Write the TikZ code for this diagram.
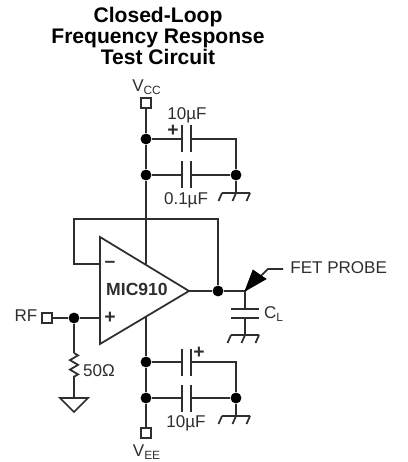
\documentclass[tikz,border=0pt]{standalone}
\usepackage{fontspec}
\setmainfont{Liberation Sans}
\usetikzlibrary{arrows.meta,decorations.pathmorphing}
\definecolor{wirecol}{HTML}{2E2E2E}
\newcommand{\chassis}[1]{\draw[wire] (#1) ++(-14,0) -- ++(28,0) ++(0,0) -- ++(-3.5,8) (#1) -- ++(-3.5,8) (#1) ++(-14,0) -- ++(-3.5,8);}
\newcommand{\plate}[1]{\draw[wire] (#1) ++(0,-13.5) -- ++(0,27);}
\tikzset{
	wire/.style={draw=wirecol,line width=1pt},
	junc/.style={circle,fill=black,inner sep=0pt,minimum size=6.2pt},
	port/.style={draw=wirecol,line width=1pt,fill=white,rectangle,inner sep=0pt,minimum size=5.4pt},
	lbl/.style={text=wirecol,font=\fontsize{9.7}{11}\selectfont,inner sep=0pt},
}
\begin{document}
\begin{tikzpicture}[x=0.02cm,y=-0.02cm]
				\useasboundingbox (0,0) rectangle (408,462);
				\node[text=black,font=\fontsize{12}{12}\selectfont\bfseries,align=center,inner sep=0pt] (title) at (158,36) {Closed-Loop\\Frequency Response\\Test Circuit};
				\node[port] (vcc) at (146,103) {};
				\node[port] (vee) at (146,433) {};
				\node[port] (rf) at (47,318) {};
				\node[junc] (j1) at (146,139) {};
				\node[junc] (j2) at (146,175) {};
				\node[junc] (j3) at (236,175) {};
				\node[junc] (j4) at (146,362) {};
				\node[junc] (j5) at (146,398) {};
				\node[junc] (j6) at (236,398) {};
				\node[junc] (j7) at (218,291) {};
				\node[junc] (j8) at (74,318) {};
				\coordinate (c1a) at (182,139);
				\coordinate (c1b) at (191,139);
				\coordinate (c1r) at (236,139);
				\coordinate (c2a) at (182,175);
				\coordinate (c2b) at (191,175);
				\coordinate (c3a) at (182,362);
				\coordinate (c3b) at (191,362);
				\coordinate (c3r) at (236,362);
				\coordinate (c4a) at (182,398);
				\coordinate (c4b) at (191,398);
				\coordinate (amptop) at (146,264);
				\coordinate (ampbot) at (146,317);
				\coordinate (ampm) at (100,264);
				\coordinate (ampp) at (100,318);
				\coordinate (amptip) at (189,291);
				\coordinate (fbtl) at (74,219);
				\coordinate (fbbl) at (74,264);
				\coordinate (fbtr) at (218,219);
				\coordinate (gnd1) at (236,193);
				\coordinate (gnd2) at (236,416);
				\coordinate (gnd3) at (245,335);
				\coordinate (out) at (245,291);
				\coordinate (cla) at (245,309);
				\coordinate (clb) at (245,318);
				\coordinate (prb) at (268,269);
				\coordinate (prbl) at (283,269);
				\coordinate (ra) at (74,353);
				\coordinate (rb) at (74,379);
				\coordinate (gnd4) at (74,398);
				\draw[wire] (vcc) -- (j1) -- (j2) -- (amptop);
				\draw[wire] (ampbot) -- (j4) -- (j5) -- (vee);
				\draw[wire] (j1) -- (c1a);
				\draw[wire] (c1b) -- (c1r) -- (j3);
				\draw[wire] (j2) -- (c2a);
				\draw[wire] (c2b) -- (j3);
				\draw[wire] (j3) -- (gnd1);
				\draw[wire] (j4) -- (c3a);
				\draw[wire] (c3b) -- (c3r) -- (j6);
				\draw[wire] (j5) -- (c4a);
				\draw[wire] (c4b) -- (j6);
				\draw[wire] (j6) -- (gnd2);
				\plate{c1a}
				\plate{c1b}
				\plate{c2a}
				\plate{c2b}
				\plate{c3a}
				\plate{c3b}
				\plate{c4a}
				\plate{c4b}
				\chassis{gnd1}
				\chassis{gnd2}
				\chassis{gnd3}
				\draw[wire,line join=miter] (100,237) -- (amptip) -- (100,344) -- cycle;
				\draw[wire] (ampm) -- (fbbl) -- (fbtl) -- (fbtr) -- (j7);
				\draw[wire] (amptip) -- (j7) -- (out);
				\draw[wire] (out) -- (cla);
				\draw[wire] (clb) -- (gnd3);
				\draw[wire] (cla) ++(-14,0) -- ++(28,0);
				\draw[wire] (clb) ++(-14,0) -- ++(28,0);
				\draw[wire] (prbl) -- (prb) -- (out);
				\draw[fill=black,draw=black,line width=0.4pt] (out) -- (253,270) -- (260,275) -- (266,279) -- cycle;
				\draw[wire] (rf) -- (j8) -- (ampp);
				\draw[wire] (j8) -- (ra);
				\draw[wire,decorate,decoration={zigzag,segment length=5.4pt,amplitude=2.3pt}] (ra) -- (rb);
				\draw[wire] (rb) -- (gnd4);
				\draw[wire] (gnd4) ++(-14,0) -- ++(28,0) -- (74,412) -- cycle;
				\node[lbl] (vcclbl) at (147,87) {V\textsubscript{CC}};
				\node[lbl] (veelbl) at (147,452) {V\textsubscript{EE}};
				\node[lbl] (c1lbl) at (187,115) {10µF};
				\node[lbl] (c2lbl) at (186,200) {0.1µF};
				\node[lbl] (c3lbl) at (186,423) {10µF};
				\node[lbl,font=\fontsize{11}{11}\selectfont\bfseries] (c1plus) at (173,131) {+};
				\node[lbl,font=\fontsize{11}{11}\selectfont\bfseries] (c3plus) at (199,353) {+};
				\node[lbl,font=\fontsize{10}{11}\selectfont\bfseries] (ampname) at (137,289) {MIC910};
				\node[lbl,font=\fontsize{11}{11}\selectfont\bfseries] (ampplus) at (110,318) {+};
				\node[lbl,font=\fontsize{11}{11}\selectfont\bfseries] (ampminus) at (110,264) {--};
				\node[lbl] (rflbl) at (26,316) {RF};
				\node[lbl] (rlbl) at (99,371) {50Ω};
				\node[lbl] (cllbl) at (274,314) {C\textsubscript{L}};
				\node[lbl,anchor=west] (prblbl) at (290,268) {FET PROBE};
			\end{tikzpicture}
\end{document}
